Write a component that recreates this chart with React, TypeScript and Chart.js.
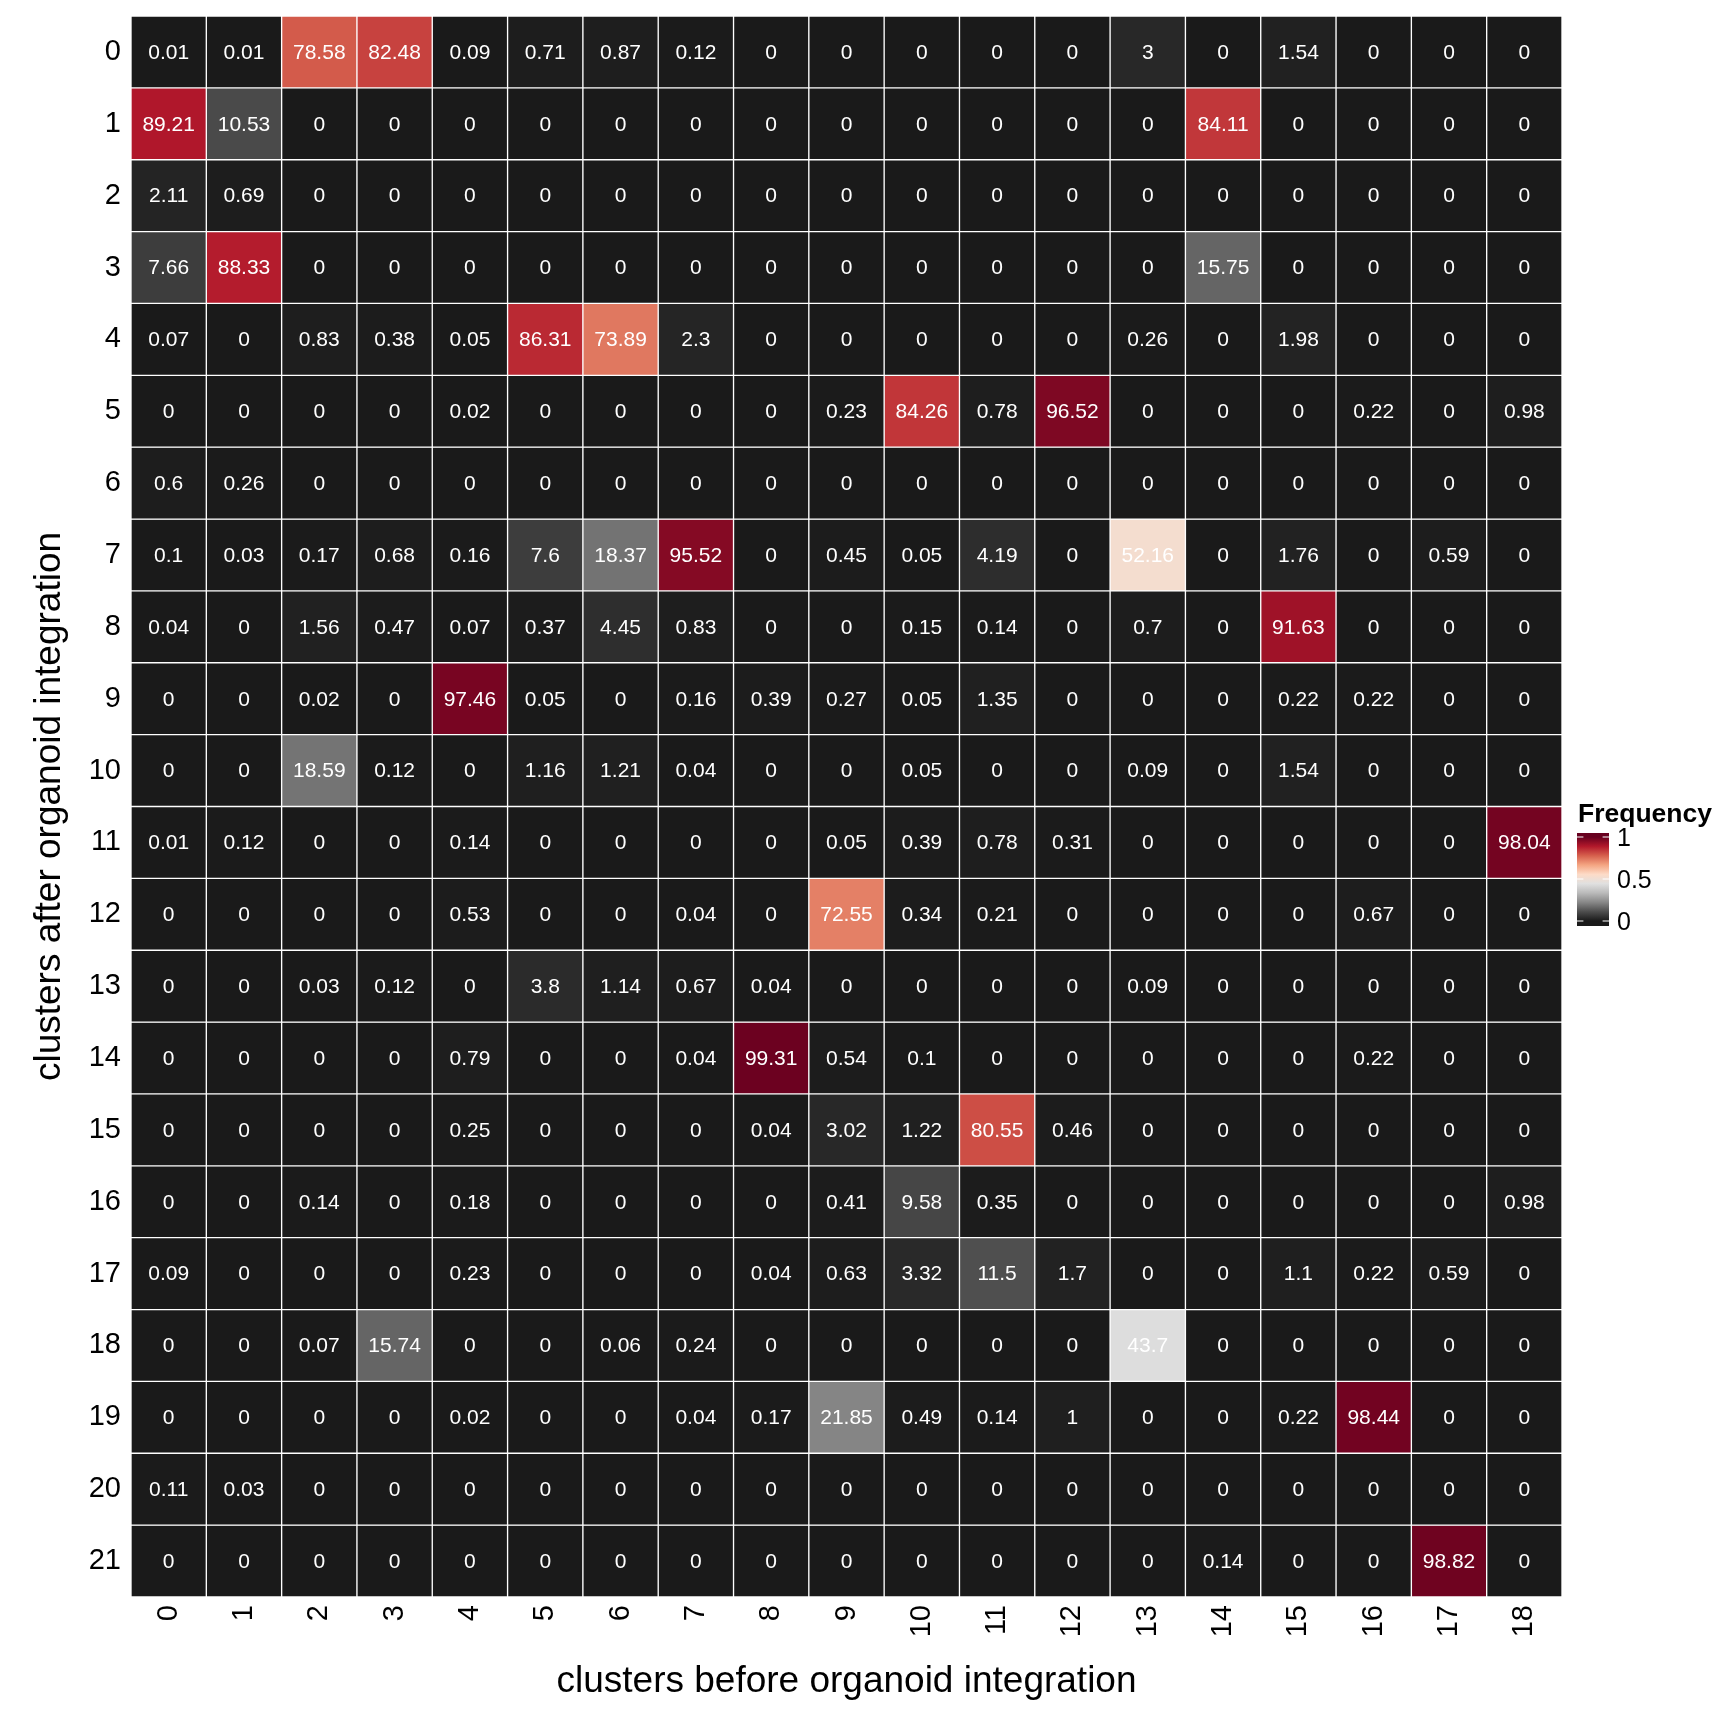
import React, { useEffect, useRef } from "react";
import { Chart, registerables } from "chart.js";

Chart.register(...registerables);

// clusters before integration (x) and after integration (y)
const columnLabels = ["0", "1", "2", "3", "4", "5", "6", "7", "8", "9", "10", "11", "12", "13", "14", "15", "16", "17", "18"];
const rowLabels = ["0", "1", "2", "3", "4", "5", "6", "7", "8", "9", "10", "11", "12", "13", "14", "15", "16", "17", "18", "19", "20", "21"];

// percentages, one array per row (after integration)
const row0 = [0.01, 0.01, 78.58, 82.48, 0.09, 0.71, 0.87, 0.12, 0, 0, 0, 0, 0, 3, 0, 1.54, 0, 0, 0];
const row1 = [89.21, 10.53, 0, 0, 0, 0, 0, 0, 0, 0, 0, 0, 0, 0, 84.11, 0, 0, 0, 0];
const row2 = [2.11, 0.69, 0, 0, 0, 0, 0, 0, 0, 0, 0, 0, 0, 0, 0, 0, 0, 0, 0];
const row3 = [7.66, 88.33, 0, 0, 0, 0, 0, 0, 0, 0, 0, 0, 0, 0, 15.75, 0, 0, 0, 0];
const row4 = [0.07, 0, 0.83, 0.38, 0.05, 86.31, 73.89, 2.3, 0, 0, 0, 0, 0, 0.26, 0, 1.98, 0, 0, 0];
const row5 = [0, 0, 0, 0, 0.02, 0, 0, 0, 0, 0.23, 84.26, 0.78, 96.52, 0, 0, 0, 0.22, 0, 0.98];
const row6 = [0.6, 0.26, 0, 0, 0, 0, 0, 0, 0, 0, 0, 0, 0, 0, 0, 0, 0, 0, 0];
const row7 = [0.1, 0.03, 0.17, 0.68, 0.16, 7.6, 18.37, 95.52, 0, 0.45, 0.05, 4.19, 0, 52.16, 0, 1.76, 0, 0.59, 0];
const row8 = [0.04, 0, 1.56, 0.47, 0.07, 0.37, 4.45, 0.83, 0, 0, 0.15, 0.14, 0, 0.7, 0, 91.63, 0, 0, 0];
const row9 = [0, 0, 0.02, 0, 97.46, 0.05, 0, 0.16, 0.39, 0.27, 0.05, 1.35, 0, 0, 0, 0.22, 0.22, 0, 0];
const row10 = [0, 0, 18.59, 0.12, 0, 1.16, 1.21, 0.04, 0, 0, 0.05, 0, 0, 0.09, 0, 1.54, 0, 0, 0];
const row11 = [0.01, 0.12, 0, 0, 0.14, 0, 0, 0, 0, 0.05, 0.39, 0.78, 0.31, 0, 0, 0, 0, 0, 98.04];
const row12 = [0, 0, 0, 0, 0.53, 0, 0, 0.04, 0, 72.55, 0.34, 0.21, 0, 0, 0, 0, 0.67, 0, 0];
const row13 = [0, 0, 0.03, 0.12, 0, 3.8, 1.14, 0.67, 0.04, 0, 0, 0, 0, 0.09, 0, 0, 0, 0, 0];
const row14 = [0, 0, 0, 0, 0.79, 0, 0, 0.04, 99.31, 0.54, 0.1, 0, 0, 0, 0, 0, 0.22, 0, 0];
const row15 = [0, 0, 0, 0, 0.25, 0, 0, 0, 0.04, 3.02, 1.22, 80.55, 0.46, 0, 0, 0, 0, 0, 0];
const row16 = [0, 0, 0.14, 0, 0.18, 0, 0, 0, 0, 0.41, 9.58, 0.35, 0, 0, 0, 0, 0, 0, 0.98];
const row17 = [0.09, 0, 0, 0, 0.23, 0, 0, 0, 0.04, 0.63, 3.32, 11.5, 1.7, 0, 0, 1.1, 0.22, 0.59, 0];
const row18 = [0, 0, 0.07, 15.74, 0, 0, 0.06, 0.24, 0, 0, 0, 0, 0, 43.7, 0, 0, 0, 0, 0];
const row19 = [0, 0, 0, 0, 0.02, 0, 0, 0.04, 0.17, 21.85, 0.49, 0.14, 1, 0, 0, 0.22, 98.44, 0, 0];
const row20 = [0.11, 0.03, 0, 0, 0, 0, 0, 0, 0, 0, 0, 0, 0, 0, 0, 0, 0, 0, 0];
const row21 = [0, 0, 0, 0, 0, 0, 0, 0, 0, 0, 0, 0, 0, 0, 0.14, 0, 0, 98.82, 0];

const frequencyRows = [row0, row1, row2, row3, row4, row5, row6, row7, row8, row9, row10,
  row11, row12, row13, row14, row15, row16, row17, row18, row19, row20, row21];

const legendTicks = [0, 0.5, 1];

// RdGy (10 classes), reversed: 0 -> dark grey, 1 -> dark red
const palette = ["#1a1a1a", "#4d4d4d", "#878787", "#bababa", "#e0e0e0",
  "#fddbc7", "#f4a582", "#d6604d", "#b2182b", "#67001f"];

const FONT = "'Liberation Sans', Arial, Helvetica, sans-serif";

const hexToRgb = (h: string) => [1, 3, 5].map((i) => parseInt(h.slice(i, i + 2), 16));

const fillFor = (t: number) => {
  const c = Math.max(0, Math.min(1, t)) * (palette.length - 1);
  const i = Math.min(Math.floor(c), palette.length - 2);
  const f = c - i;
  const a = hexToRgb(palette[i]);
  const b = hexToRgb(palette[i + 1]);
  const m = a.map((v, k) => Math.round(v + (b[k] - v) * f));
  return `rgb(${m[0]},${m[1]},${m[2]})`;
};

const cellLabels = {
  id: "cellLabels",
  afterDatasetsDraw(chart: Chart) {
    const ctx = chart.ctx;
    ctx.save();
    ctx.fillStyle = "#ffffff";
    ctx.font = `21px ${FONT}`;
    ctx.textAlign = "center";
    ctx.textBaseline = "middle";
    chart.data.datasets.forEach((ds, r) => {
      const meta = chart.getDatasetMeta(r);
      meta.data.forEach((el: any, c: number) => {
        const { x, y, base } = el.getProps(["x", "y", "base"], true);
        ctx.fillText(String(frequencyRows[r][c]), x, (y + base) / 2 + 1);
      });
    });
    ctx.restore();
  },
};

const colourBar = {
  id: "colourBar",
  afterDraw(chart: Chart) {
    const ctx = chart.ctx;
    const left = chart.chartArea.right + 15;
    const w = 32;
    const top = 833;
    const bottom = 926;
    const y0 = 921;
    const y1 = 837;
    ctx.save();
    ctx.fillStyle = "#000000";
    ctx.font = `bold 26.5px ${FONT}`;
    ctx.textAlign = "left";
    ctx.textBaseline = "alphabetic";
    ctx.fillText("Frequency", left + 1, 822);

    const grad = ctx.createLinearGradient(0, y0, 0, y1);
    palette.forEach((col, i) => grad.addColorStop(i / (palette.length - 1), col));
    ctx.fillStyle = grad;
    ctx.fillRect(left, top, w, bottom - top);

    ctx.strokeStyle = "#ffffff";
    ctx.lineWidth = 1.2;
    ctx.font = `25px ${FONT}`;
    ctx.textBaseline = "middle";
    legendTicks.forEach((v) => {
      const y = y0 + (y1 - y0) * v;
      ctx.beginPath();
      ctx.moveTo(left, y);
      ctx.lineTo(left + w * 0.2, y);
      ctx.moveTo(left + w * 0.8, y);
      ctx.lineTo(left + w, y);
      ctx.stroke();
      ctx.fillStyle = "#000000";
      ctx.fillText(String(v), left + w + 8, y + 2);
    });
    ctx.restore();
  },
};

export default function App() {
  const canvasRef = useRef<HTMLCanvasElement>(null);

  useEffect(() => {
    document.body.style.margin = "0";
    if (!canvasRef.current) return;
    Chart.defaults.font.family = FONT;

    const chart = new Chart(canvasRef.current, {
      type: "bar",
      data: {
        labels: columnLabels,
        datasets: frequencyRows.map((vals, r) => ({
          label: rowLabels[r],
          data: vals.map(() => [r - 0.5, r + 0.5]),
          backgroundColor: vals.map((v) => fillFor(v / 100)),
          borderColor: "#ffffff",
          borderWidth: 1,
          borderSkipped: false,
          grouped: false,
          barPercentage: 1,
          categoryPercentage: 1,
        })) as any,
      },
      options: {
        responsive: false,
        animation: false,
        layout: { padding: { top: 16, right: 166, bottom: 0, left: 0 } },
        plugins: {
          legend: { display: false },
          tooltip: { enabled: false },
        },
        scales: {
          x: {
            type: "category",
            offset: true,
            grid: { display: false, drawTicks: false },
            border: { display: false },
            ticks: {
              color: "#000000",
              font: { size: 29 },
              minRotation: 90,
              maxRotation: 90,
              autoSkip: false,
              padding: 8,
            },
            title: {
              display: true,
              text: "clusters before organoid integration",
              color: "#000000",
              font: { size: 37 },
              padding: { top: 0, bottom: 24 },
            },
            afterFit: (scale: any) => {
              scale.height = 131;
            },
          },
          y: {
            type: "linear",
            min: -0.5,
            max: rowLabels.length - 0.5,
            reverse: true,
            grid: { display: false, drawTicks: false },
            border: { display: false },
            afterBuildTicks: (scale: any) => {
              scale.ticks = rowLabels.map((_, i) => ({ value: i }));
            },
            ticks: {
              color: "#000000",
              font: { size: 29 },
              autoSkip: false,
              padding: 10,
              callback: (v: any) => rowLabels[Number(v)],
            },
            title: {
              display: true,
              text: "clusters after organoid integration",
              color: "#000000",
              font: { size: 37 },
              padding: { top: 28, bottom: 0 },
            },
            afterFit: (scale: any) => {
              scale.width = 131;
              scale.paddingTop = 0;
              scale.paddingBottom = 0;
            },
          },
        },
      },
      plugins: [cellLabels, colourBar],
    });

    return () => {
      chart.destroy();
    };
  }, []);

  return (
    <div style={{ width: 1728, height: 1728, background: "#ffffff" }}>
      <canvas ref={canvasRef} width={1728} height={1728} />
    </div>
  );
}
